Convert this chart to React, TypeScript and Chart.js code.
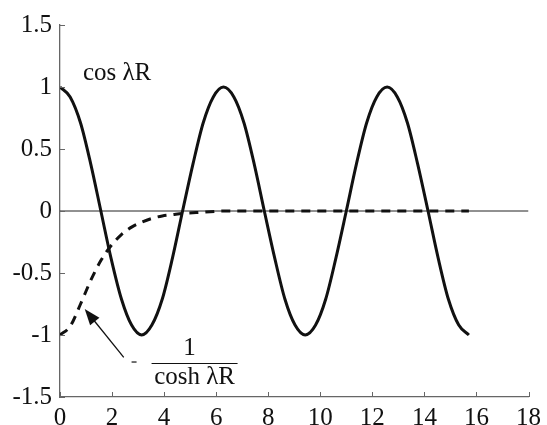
import React, { useEffect, useRef } from "react";
import { Chart, registerables } from "chart.js";

Chart.register(...registerables);

const cosX = [0, 0.39, 0.79, 1.18, 1.57, 1.96, 2.36, 2.75, 3.14, 3.53, 3.93, 4.32, 4.71, 5.11, 5.5, 5.89, 6.28, 6.68, 7.07, 7.46, 7.85, 8.25, 8.64, 9.03, 9.42, 9.82, 10.21, 10.6, 11.0, 11.39, 11.78, 12.17, 12.57, 12.96, 13.35, 13.74, 14.14, 14.53, 14.92, 15.32, 15.71];
const cosY = [1, 0.92, 0.71, 0.38, 0, -0.38, -0.71, -0.92, -1, -0.92, -0.71, -0.38, 0, 0.38, 0.71, 0.92, 1, 0.92, 0.71, 0.38, 0, -0.38, -0.71, -0.92, -1, -0.92, -0.71, -0.38, 0, 0.38, 0.71, 0.92, 1, 0.92, 0.71, 0.38, 0, -0.38, -0.71, -0.92, -1];

const coshX = [0, 0.39, 0.79, 1.18, 1.57, 1.96, 2.36, 2.75, 3.14, 3.53, 3.93, 4.32, 4.71, 5.5, 6.28, 7.5, 9, 11, 13, 15.71];
const coshY = [-1, -0.93, -0.75, -0.56, -0.4, -0.28, -0.19, -0.13, -0.09, -0.06, -0.04, -0.03, -0.02, -0.01, 0, 0, 0, 0, 0, 0];

const zeroX = [0, 18];
const zeroY = [0, 0];

const xTicks = [0, 2, 4, 6, 8, 10, 12, 14, 16, 18];
const yTicks = [-1.5, -1, -0.5, 0, 0.5, 1, 1.5];

const cosLabel = "cos λR";
const fracNum = "1";
const fracDen = "cosh λR";

const FONT = "'Liberation Serif', 'Times New Roman', serif";

const pts = (xs: number[], ys: number[]) => xs.map((x, i) => ({ x, y: ys[i] }));

export default function App() {
  const ref = useRef<HTMLCanvasElement>(null);
  useEffect(() => {
    const canvas = ref.current!;
    const extras = {
      id: "extras",
      afterDatasetsDraw(chart: any) {
        const ctx = chart.ctx as CanvasRenderingContext2D;
        const xs = chart.scales.x;
        const ys = chart.scales.y;
        const area = chart.chartArea;
        ctx.save();
        // inward ticks
        ctx.strokeStyle = "#666";
        ctx.lineWidth = 1;
        ctx.beginPath();
        xTicks.forEach((v) => {
          const px = Math.round(xs.getPixelForValue(v)) + 0.5;
          ctx.moveTo(px, area.bottom);
          ctx.lineTo(px, area.bottom - 5);
        });
        yTicks.forEach((v) => {
          const py = Math.round(ys.getPixelForValue(v)) + 0.5;
          ctx.moveTo(area.left, py);
          ctx.lineTo(area.left + 5, py);
        });
        ctx.stroke();

        // labels
        ctx.fillStyle = "#111";
        ctx.font = `25px ${FONT}`;
        ctx.textBaseline = "middle";
        ctx.textAlign = "left";
        ctx.fillText(cosLabel, xs.getPixelForValue(0.88), ys.getPixelForValue(1.11));

        const cx = xs.getPixelForValue(5.17);
        const by = ys.getPixelForValue(-1.23);
        ctx.textAlign = "center";
        ctx.fillText(fracNum, cx - 5, by - 15);
        ctx.fillText(fracDen, cx, by + 14);
        ctx.strokeStyle = "#111";
        ctx.lineWidth = 1.2;
        ctx.beginPath();
        ctx.moveTo(cx - 43, by);
        ctx.lineTo(cx + 43, by);
        ctx.stroke();
        ctx.beginPath();
        ctx.moveTo(cx - 63, by - 1.5);
        ctx.lineTo(cx - 58, by - 1.5);
        ctx.stroke();

        // arrow
        const tx = xs.getPixelForValue(0.95);
        const ty = ys.getPixelForValue(-0.79);
        const sx = xs.getPixelForValue(2.45);
        const sy = ys.getPixelForValue(-1.18);
        const ang = Math.atan2(ty - sy, tx - sx);
        ctx.lineWidth = 1.3;
        ctx.beginPath();
        ctx.moveTo(sx, sy);
        ctx.lineTo(tx - 10 * Math.cos(ang), ty - 10 * Math.sin(ang));
        ctx.stroke();
        const L = 16, W = 6;
        const bx = tx - L * Math.cos(ang);
        const byy = ty - L * Math.sin(ang);
        ctx.fillStyle = "#111";
        ctx.beginPath();
        ctx.moveTo(tx, ty);
        ctx.lineTo(bx + W * Math.sin(ang), byy - W * Math.cos(ang));
        ctx.lineTo(bx - W * Math.sin(ang), byy + W * Math.cos(ang));
        ctx.closePath();
        ctx.fill();
        ctx.restore();
      },
    };

    const chart = new Chart(canvas, {
      type: "line",
      data: {
        datasets: [
          {
            data: pts(zeroX, zeroY),
            borderColor: "#222",
            borderWidth: 1,
            pointRadius: 0,
            order: 3,
          },
          {
            data: pts(coshX, coshY),
            borderColor: "#111",
            borderWidth: 3,
            borderDash: [9, 7],
            pointRadius: 0,
            cubicInterpolationMode: "monotone",
            order: 2,
          },
          {
            data: pts(cosX, cosY),
            borderColor: "#111",
            borderWidth: 3,
            pointRadius: 0,
            cubicInterpolationMode: "monotone",
            order: 1,
          },
        ],
      },
      options: {
        animation: false,
        responsive: false,
        devicePixelRatio: 1,
        layout: { padding: { top: 25, right: 17, left: 0, bottom: 0 } },
        plugins: { legend: { display: false }, tooltip: { enabled: false } },
        scales: {
          x: {
            type: "linear",
            min: 0,
            max: 18,
            afterFit: (s: any) => {
              s.height = 28;
            },
            afterBuildTicks: (s: any) => {
              s.ticks = xTicks.map((v) => ({ value: v }));
            },
            grid: { display: false, drawTicks: false },
            border: { display: true, color: "#666", width: 1.3 },
            ticks: {
              padding: 6,
              color: "#111",
              font: { family: FONT, size: 25 },
              maxRotation: 0,
              callback: (v: any) => String(v),
            },
          },
          y: {
            type: "linear",
            min: -1.5,
            max: 1.5,
            afterFit: (s: any) => {
              s.width = 60;
            },
            afterBuildTicks: (s: any) => {
              s.ticks = yTicks.map((v) => ({ value: v }));
            },
            grid: { display: false, drawTicks: false },
            border: { display: true, color: "#666", width: 1.3 },
            ticks: {
              padding: 8,
              color: "#111",
              font: { family: FONT, size: 25 },
              callback: (v: any) => String(v),
            },
          },
        },
      },
      plugins: [extras],
    } as any);
    return () => chart.destroy();
  }, []);

  return (
    <div style={{ position: "absolute", left: 0, top: 0, width: 547, height: 425, background: "#fff" }}>
      <canvas ref={ref} width={547} height={425} style={{ width: 547, height: 425 }} />
    </div>
  );
}
